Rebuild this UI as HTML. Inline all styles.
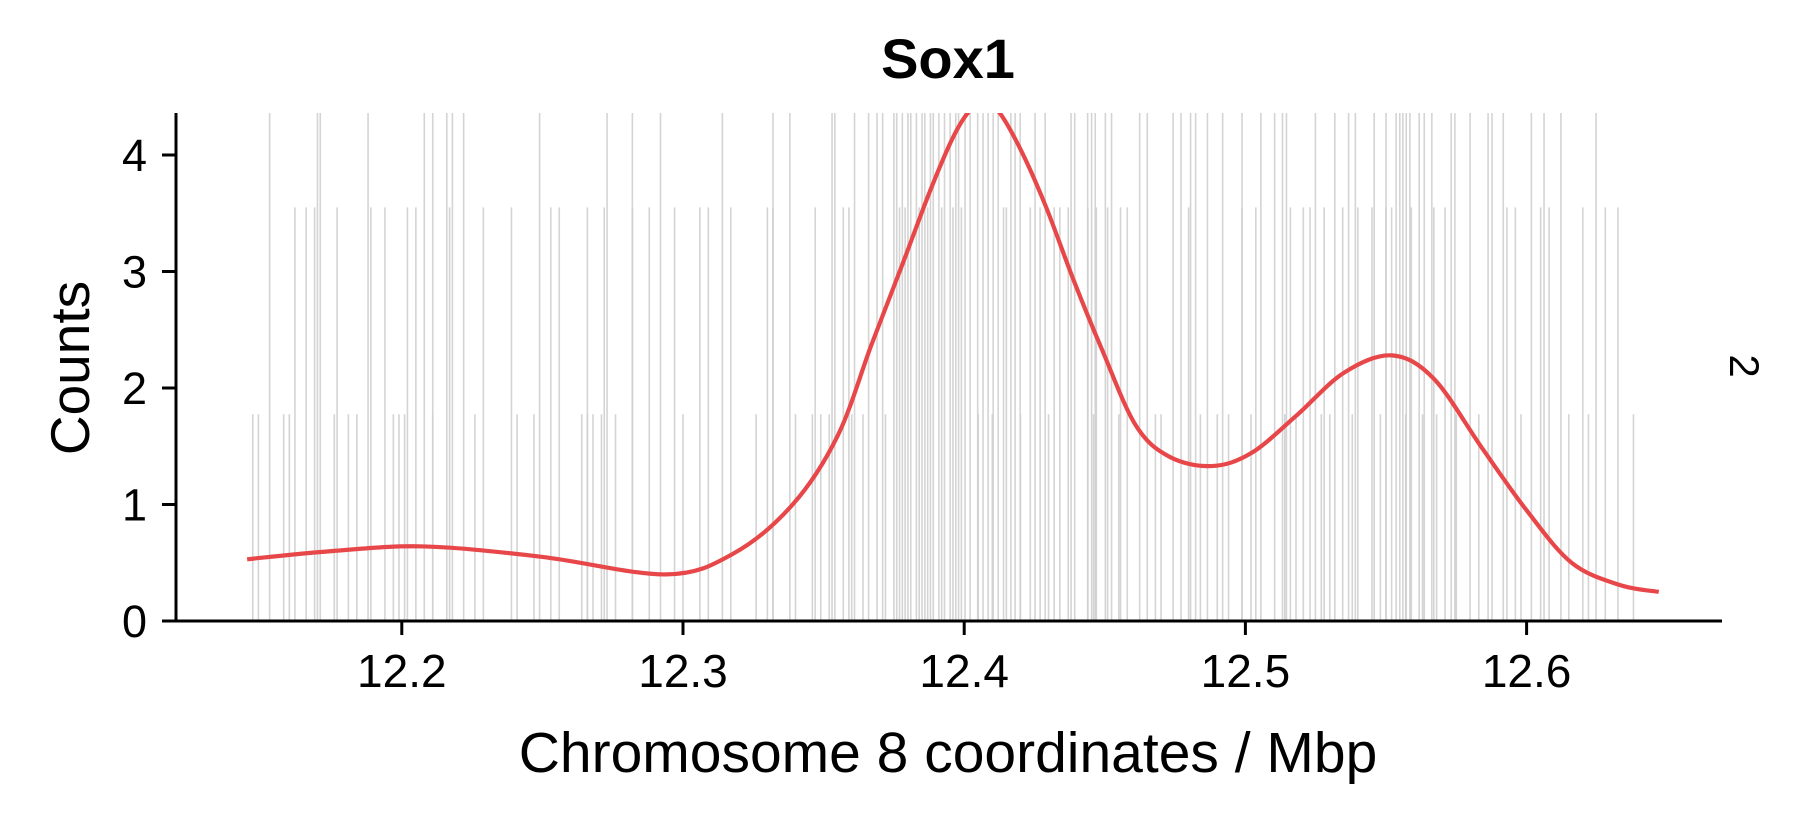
<!DOCTYPE html>
<html><head><meta charset="utf-8"><style>
html,body{margin:0;padding:0;background:#fff;}
svg{display:block;font-family:"Liberation Sans",Arial,sans-serif;}
</style></head><body>
<svg id="chart" width="1800" height="818" viewBox="0 0 1800 818" xmlns="http://www.w3.org/2000/svg">
<defs><clipPath id="plotclip"><rect x="176" y="113" width="1550" height="510"/></clipPath></defs>
<g id="rug" clip-path="url(#plotclip)"></g>
<g id="curve" clip-path="url(#plotclip)"></g>
<g id="axes"></g>
<text x="948" y="78" text-anchor="middle" font-size="56" font-weight="bold">Sox1</text>
<text transform="translate(89,368) rotate(-90)" text-anchor="middle" font-size="55">Counts</text>
<text x="948" y="772" text-anchor="middle" font-size="57">Chromosome 8 coordinates / Mbp</text>
<text transform="translate(1730,366) rotate(90)" text-anchor="middle" font-size="42">2</text>
</svg>
<script>
const xTicks = [12.2, 12.3, 12.4, 12.5, 12.6];
const xTickLabels = ["12.2", "12.3", "12.4", "12.5", "12.6"];
const yTicks = [0, 1, 2, 3, 4];
const yTickLabels = ["0", "1", "2", "3", "4"];
const curveX = [12.145,12.175,12.208,12.25,12.294,12.318,12.339,12.355,12.367,12.378,12.388,12.396,12.402,12.407,12.412,12.420,12.429,12.439,12.449,12.461,12.473,12.488,12.502,12.518,12.535,12.552,12.567,12.584,12.600,12.616,12.633,12.647];
const curveY = [0.53,0.60,0.64,0.55,0.40,0.58,1.0,1.59,2.37,3.06,3.7,4.15,4.38,4.42,4.38,4.05,3.56,2.92,2.33,1.68,1.41,1.33,1.44,1.76,2.13,2.28,2.08,1.49,0.95,0.50,0.31,0.25];
const rugCount3 = [12.153,12.170,12.171,12.188,12.208,12.211,12.216,12.218,12.222,12.249,12.273,12.282,12.292,12.314,12.332,12.338,12.353,12.354,12.361,12.366,12.369,12.371,12.375,12.376,12.378,12.380,12.381,12.383,12.385,12.386,12.388,12.389,12.391,12.393,12.395,12.397,12.398,12.4003,12.4021,12.4048,12.4067,12.4085,12.4103,12.4121,12.4166,12.4181,12.4199,12.4252,12.4288,12.438,12.4393,12.4439,12.4453,12.4466,12.4502,12.4524,12.4624,12.4651,12.4743,12.4771,12.4805,12.4823,12.4865,12.4919,12.4988,12.5055,12.5104,12.5132,12.5146,12.5249,12.5318,12.5367,12.5391,12.5458,12.55,12.5536,12.5549,12.556,12.5572,12.5585,12.5618,12.5636,12.5663,12.5732,12.5745,12.5799,12.5863,12.5877,12.5917,12.6017,12.6062,12.6122,12.6247];
const rugCount2 = [12.162,12.166,12.169,12.177,12.189,12.194,12.202,12.205,12.217,12.229,12.239,12.253,12.256,12.266,12.272,12.282,12.288,12.297,12.306,12.309,12.317,12.330,12.332,12.347,12.357,12.359,12.377,12.379,12.384,12.387,12.392,12.396,12.399,12.414,12.415,12.4235,12.427,12.432,12.434,12.437,12.444,12.447,12.451,12.4556,12.458,12.4798,12.4988,12.5037,12.516,12.5206,12.523,12.528,12.5346,12.540,12.545,12.550,12.552,12.559,12.567,12.571,12.593,12.596,12.605,12.608,12.620,12.628,12.6325];
const rugCount1 = [12.147,12.149,12.158,12.160,12.176,12.181,12.184,12.197,12.199,12.201,12.211,12.226,12.241,12.247,12.264,12.266,12.268,12.271,12.276,12.300,12.326,12.340,12.346,12.349,12.352,12.360,12.364,12.372,12.405,12.410,12.420,12.430,12.446,12.455,12.468,12.470,12.484,12.490,12.494,12.502,12.514,12.518,12.527,12.530,12.538,12.548,12.557,12.563,12.568,12.575,12.583,12.598,12.615,12.622,12.638];

const NS = "http://www.w3.org/2000/svg";
const X0 = 176, Y0 = 621, YTOP = 113, XEND = 1722;
function xScale(v){ return 401.8 + (v - 12.2) * 2812; }
function yScale(v){ return Y0 - v * 116.5; }
function mk(tag, attrs, parent){ const e = document.createElementNS(NS, tag); for (const k in attrs) e.setAttribute(k, attrs[k]); parent.appendChild(e); return e; }

const rug = document.getElementById('rug');
function drawRug(arr, count){
  arr.forEach(v => {
    const l = mk('line', {x1: xScale(v), x2: xScale(v), y1: Y0, y2: Math.max(YTOP, yScale(count * 1.775)), stroke: '#cfcfcf', 'stroke-width': 1.6, 'stroke-opacity': 0.9}, rug);
    
    
  });
}
drawRug(rugCount1, 1); drawRug(rugCount2, 2); drawRug(rugCount3, 3);

const pts = curveX.map((v, i) => [xScale(v), yScale(curveY[i])]);
let d = 'M' + pts[0][0] + ',' + pts[0][1];
for (let i = 0; i < pts.length - 1; i++) {
  const p0 = pts[Math.max(0, i - 1)], p1 = pts[i], p2 = pts[i + 1], p3 = pts[Math.min(pts.length - 1, i + 2)];
  const c1x = p1[0] + (p2[0] - p0[0]) / 6, c1y = p1[1] + (p2[1] - p0[1]) / 6;
  const c2x = p2[0] - (p3[0] - p1[0]) / 6, c2y = p2[1] - (p3[1] - p1[1]) / 6;
  d += ' C' + c1x + ',' + c1y + ' ' + c2x + ',' + c2y + ' ' + p2[0] + ',' + p2[1];
}
const path = mk('path', {d: d, fill: 'none', stroke: '#e8474a', 'stroke-width': 4.2, 'stroke-linejoin': 'round'}, document.getElementById('curve'));



const axes = document.getElementById('axes');
const ya = mk('line', {x1: X0, x2: X0, y1: YTOP, y2: Y0 + 1.5, stroke: '#000', 'stroke-width': 3}, axes);


const xa = mk('line', {x1: 162, x2: XEND, y1: Y0, y2: Y0, stroke: '#000', 'stroke-width': 3}, axes);


yTicks.forEach((v, i) => {
  const t = mk('line', {x1: 162, x2: X0, y1: yScale(v), y2: yScale(v), stroke: '#000', 'stroke-width': 3}, axes);
  
  
  const tx = mk('text', {x: 147, y: yScale(v) + 16, 'text-anchor': 'end', 'font-size': 45}, axes);
  tx.textContent = yTickLabels[i];
  
  
});
xTicks.forEach((v, i) => {
  const t = mk('line', {x1: xScale(v), x2: xScale(v), y1: Y0, y2: Y0 + 14, stroke: '#000', 'stroke-width': 3}, axes);
  
  
  const tx = mk('text', {x: xScale(v), y: Y0 + 66, 'text-anchor': 'middle', 'font-size': 46}, axes);
  tx.textContent = xTickLabels[i];
  
  
});
</script>
</body></html>
